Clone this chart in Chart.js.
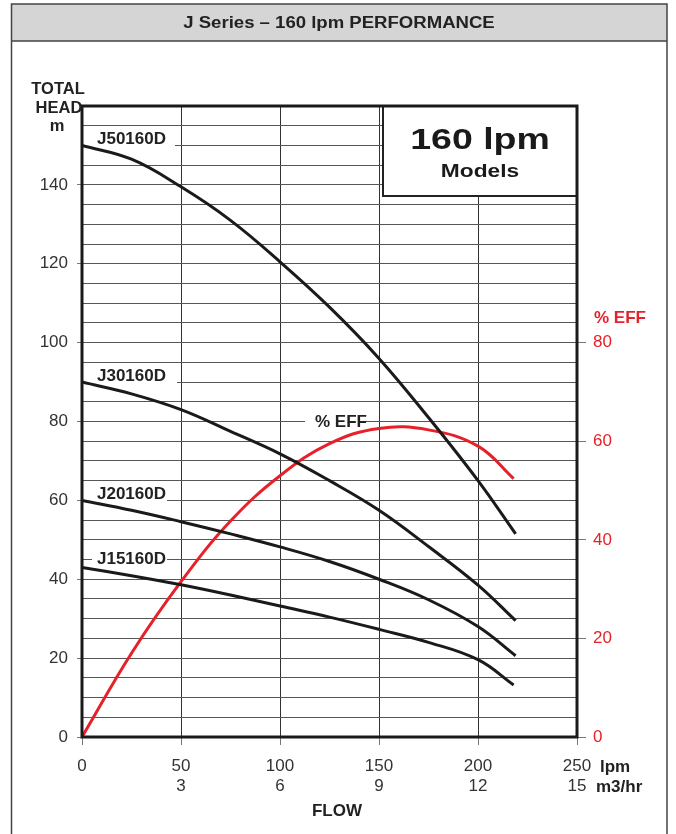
<!DOCTYPE html>
<html>
<head>
<meta charset="utf-8">
<title>J Series – 160 lpm PERFORMANCE</title>
<script src="https://cdn.jsdelivr.net/npm/chart.js@4.4.1/dist/chart.umd.min.js"></script>
<style>
  html, body { margin: 0; padding: 0; background: #fff; }
  #wrap { width: 676px; height: 834px; position: relative; }
</style>
</head>
<body>
<div id="wrap"><canvas id="myChart"></canvas></div>
<script>
'use strict';

//data (flow in lpm, head in m)
let flowPoints = [0, 25, 50, 75, 100, 125, 150, 175, 200, 219];
let headJ50 = [150, 146.5, 139.5, 131, 120.5, 109, 96, 81, 65, 51.5];
let headJ30 = [90, 87, 83, 77.5, 71.8, 65, 57.5, 48.3, 38.5, 29.5];
let headJ20 = [60, 57.5, 54.6, 51.5, 48.2, 44.5, 40, 34.8, 28, 20.6];
let flowJ15 = [0, 25, 50, 75, 100, 125, 150, 175, 200, 218];
let headJ15 = [43, 40.9, 38.6, 36, 33.2, 30.4, 27.3, 24, 19.6, 13.2];
let flowEff = [0, 25, 50, 75, 100, 125, 150, 175, 200, 218];
let effValues = [0, 17, 31.5, 43.8, 53, 59.5, 62.6, 62.3, 59, 52.4];

//axis ticks
let flowTicks = [0, 50, 100, 150, 200, 250];
let m3hrTicks = ['', '3', '6', '9', '12', '15'];
let headLabelled = [0, 20, 40, 60, 80, 100, 120, 140];
let effTicks = [0, 20, 40, 60, 80];

let curveNames = ['J50160D', 'J30160D', 'J20160D', 'J15160D'];

const red = '#e62129';
const fontFamily = '"Liberation Sans", Arial, Helvetica, sans-serif';

function toPoints(xs, ys){
  let pts = [];
  for(let i = 0; i < xs.length; i++){
    pts.push({x: xs[i], y: ys[i]});
  }
  return pts;
}

function curve(label, xs, ys, color, axis){
  return {
    label: label,
    data: toPoints(xs, ys),
    borderColor: color,
    borderWidth: 3,
    pointRadius: 0,
    fill: false,
    tension: 0.4,
    yAxisID: axis
  };
}

//stretch lets the text look like the wide face of the original
function text(ctx, str, x, y, font, color, align, stretch){
  ctx.save();
  ctx.font = font;
  ctx.fillStyle = color || '#222';
  ctx.textAlign = align || 'left';
  ctx.textBaseline = 'alphabetic';
  ctx.translate(x, y);
  if(stretch){ ctx.scale(stretch, 1); }
  ctx.fillText(str, 0, 0);
  ctx.restore();
}

//white patch so a label interrupts a grid line
function gap(ctx, yScale, value, x1, x2){
  let py = yScale.getPixelForValue(value);
  ctx.fillStyle = '#fff';
  ctx.fillRect(x1, py - 2, x2 - x1, 4);
}

const decorations = {
  id: 'decorations',
  beforeDraw(chart){
    let ctx = chart.ctx;
    ctx.save();
    ctx.fillStyle = '#fff';
    ctx.fillRect(0, 0, chart.width, chart.height);
    //title bar
    ctx.fillStyle = '#d5d5d5';
    ctx.fillRect(11, 4, 656, 37);
    ctx.strokeStyle = '#444';
    ctx.lineWidth = 1.5;
    ctx.beginPath();
    ctx.moveTo(11.5, 834); ctx.lineTo(11.5, 4); ctx.lineTo(667, 4); ctx.lineTo(667, 834);
    ctx.moveTo(11, 41); ctx.lineTo(667, 41);
    ctx.stroke();
    ctx.restore();
    text(ctx, 'J Series – 160 lpm PERFORMANCE', 339, 28, 'bold 16px ' + fontFamily, '#222', 'center', 1.16);
  },
  beforeDatasetsDraw(chart){
    let ctx = chart.ctx;
    let y = chart.scales.y;
    let area = chart.chartArea;
    ctx.save();
    gap(ctx, y, 150, area.left + 2, 175);
    gap(ctx, y, 90, area.left + 2, 177);
    gap(ctx, y, 60, area.left + 2, 167);
    gap(ctx, y, 45, 92, 167);
    gap(ctx, y, 80, 305, 365);

    //models box
    ctx.fillStyle = '#fff';
    ctx.fillRect(383, area.top, area.right - 383, 90);
    ctx.strokeStyle = '#222';
    ctx.lineWidth = 2;
    ctx.strokeRect(383, area.top, area.right - 383, 90);
    ctx.restore();

    let bold = 'bold 17px ' + fontFamily;
    text(ctx, curveNames[0], 97, y.getPixelForValue(150) - 1.5, bold);
    text(ctx, curveNames[1], 97, y.getPixelForValue(90) - 1, bold);
    text(ctx, curveNames[2], 97, y.getPixelForValue(60) - 1, bold);
    text(ctx, curveNames[3], 97, y.getPixelForValue(45) + 4, bold);
    text(ctx, '% EFF', 315, y.getPixelForValue(80) + 5, bold);

    text(ctx, '160 lpm', 480, 149, 'bold 30px ' + fontFamily, '#1a1a1a', 'center', 1.25);
    text(ctx, 'Models', 480, 177, 'bold 17.5px ' + fontFamily, '#1a1a1a', 'center', 1.3);
  },
  afterDatasetsDraw(chart){
    let ctx = chart.ctx;
    let a = chart.chartArea;
    ctx.save();
    ctx.strokeStyle = '#1a1a1a';
    ctx.lineWidth = 3;
    ctx.strokeRect(a.left, a.top, a.right - a.left, a.bottom - a.top);
    ctx.restore();
  },
  afterDraw(chart){
    let ctx = chart.ctx;
    let bold = 'bold 16.5px ' + fontFamily;
    text(ctx, 'TOTAL', 58, 94, bold, '#222', 'center');
    text(ctx, 'HEAD', 59, 113, bold, '#222', 'center');
    text(ctx, 'm', 57, 131, bold, '#222', 'center');
    text(ctx, '% EFF', 594, 323, 'bold 17px ' + fontFamily, red);
    text(ctx, 'lpm', 600, 772, 'bold 17px ' + fontFamily);
    text(ctx, 'm3/hr', 596, 792, 'bold 17px ' + fontFamily);
    text(ctx, 'FLOW', 337, 816, 'bold 17px ' + fontFamily, '#222', 'center');
  }
};

const ctx = document.getElementById('myChart');
new Chart(ctx, {
  type: 'line',
  data: {
    datasets: [
      curve(curveNames[0], flowPoints, headJ50, '#1a1a1a', 'y'),
      curve(curveNames[1], flowPoints, headJ30, '#1a1a1a', 'y'),
      curve(curveNames[2], flowPoints, headJ20, '#1a1a1a', 'y'),
      curve(curveNames[3], flowJ15, headJ15, '#1a1a1a', 'y'),
      curve('% EFF', flowEff, effValues, red, 'y2')
    ]
  },
  options: {
    responsive: true,
    maintainAspectRatio: false,
    animation: false,
    devicePixelRatio: 1,
    layout: { padding: { top: 106, left: 0, right: 0, bottom: 0 } },
    plugins: { legend: { display: false }, tooltip: { enabled: false } },
    scales: {
      x: {
        type: 'linear',
        min: 0,
        max: 250,
        afterBuildTicks: (scale) => { scale.ticks = flowTicks.map(v => ({value: v})); },
        afterFit: (scale) => { scale.height = 97; },
        border: { display: false },
        grid: {
          color: (c) => (c.tick && (c.tick.value === 0 || c.tick.value === 250)) ? 'rgba(0,0,0,0)' : '#333',
          lineWidth: 1,
          tickColor: '#777',
          tickLength: 8
        },
        ticks: {
          color: '#333',
          padding: 11,
          font: { family: fontFamily, size: 17 },
          callback: (v) => {
            let i = flowTicks.indexOf(v);
            return m3hrTicks[i] ? [String(v), m3hrTicks[i]] : String(v);
          }
        }
      },
      y: {
        position: 'left',
        min: 0,
        max: 160,
        afterFit: (scale) => { scale.width = 82; },
        border: { display: false },
        grid: {
          color: '#555',
          lineWidth: 1,
          tickLength: 5,
          tickColor: (c) => (c.tick && headLabelled.includes(c.tick.value)) ? '#777' : 'rgba(0,0,0,0)'
        },
        ticks: {
          stepSize: 5,
          autoSkip: false,
          color: '#333',
          padding: 9,
          font: { family: fontFamily, size: 17 },
          callback: (v) => headLabelled.includes(v) ? String(v) : ''
        }
      },
      y2: {
        position: 'right',
        min: 0,
        max: 128,
        afterBuildTicks: (scale) => { scale.ticks = effTicks.map(v => ({value: v})); },
        afterFit: (scale) => { scale.width = 99; },
        border: { display: false },
        grid: {
          drawOnChartArea: false,
          tickLength: 9,
          tickColor: '#777'
        },
        ticks: {
          color: red,
          padding: 7,
          font: { family: fontFamily, size: 17 }
        }
      }
    }
  },
  plugins: [decorations]
});
</script>
</body>
</html>
